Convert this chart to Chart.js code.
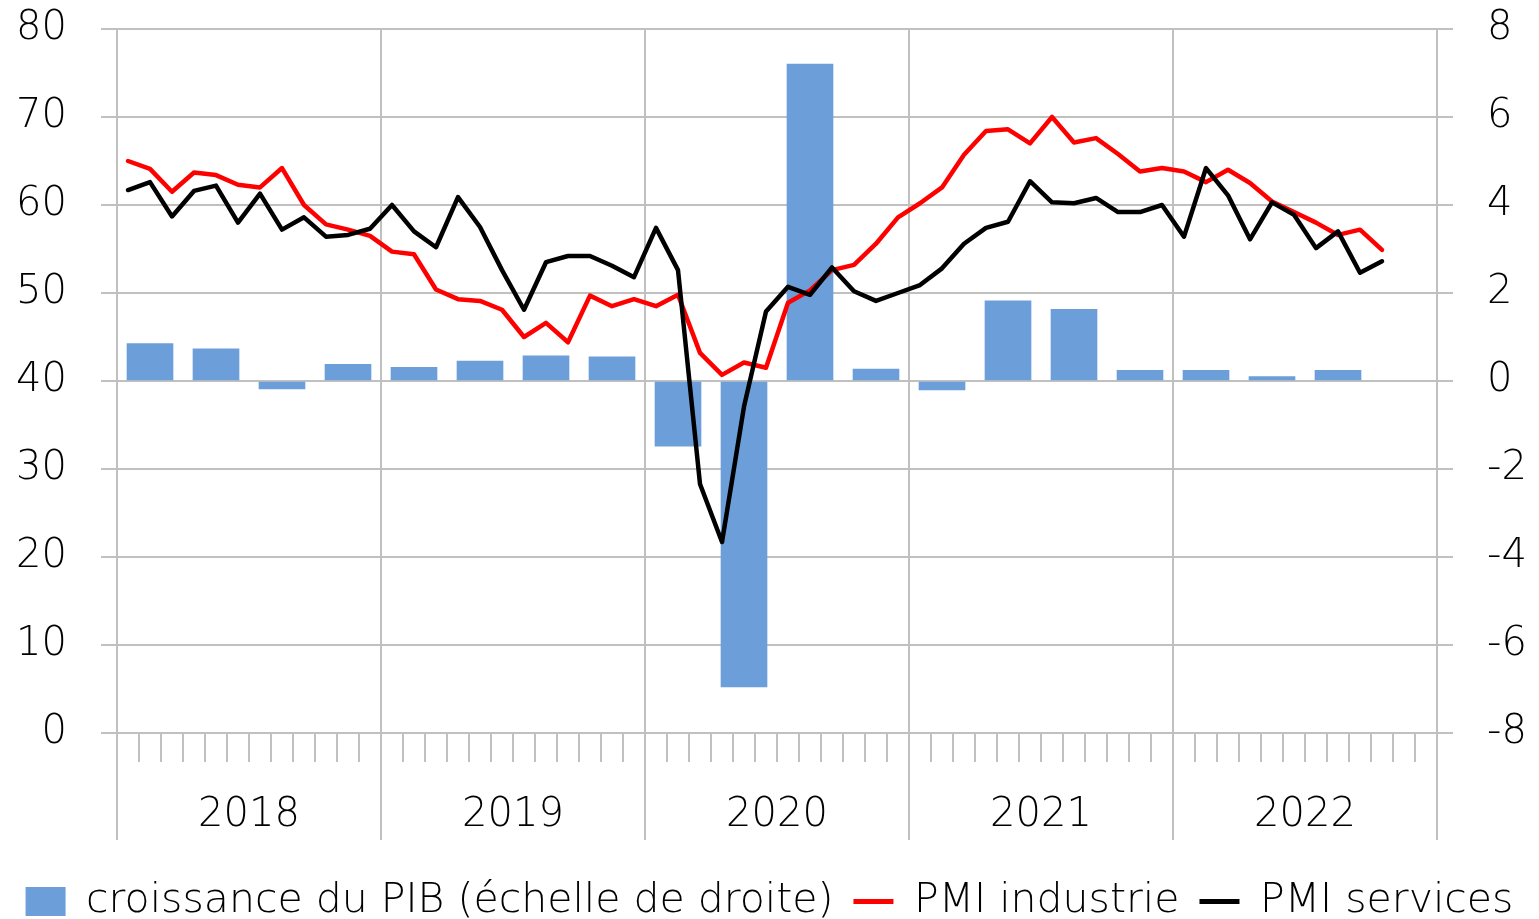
<!DOCTYPE html>
<html>
<head>
<meta charset="utf-8">
<script src="https://cdn.jsdelivr.net/npm/chart.js@4/dist/chart.umd.min.js"></script>
<style>
html,body{margin:0;padding:0;background:#fff;}
canvas{display:block;}
</style>
</head>
<body>
<canvas id="c" width="1539" height="919"></canvas>
<script>
// ---- data ----
const years = ['2018', '2019', '2020', '2021', '2022'];
const monthNumbers = ['01','02','03','04','05','06','07','08','09','10','11','12'];

// PMI industrie (monthly, Jan 2018 - Oct 2022)
const pmiIndustrie = [
  65.0, 64.1, 61.5, 63.7, 63.4, 62.3, 62.0, 64.2, 60.0, 57.8, 57.2, 56.5,
  54.7, 54.4, 50.4, 49.3, 49.1, 48.1, 45.0, 46.6, 44.4, 49.7, 48.5, 49.3,
  48.5, 49.8, 43.2, 40.7, 42.1, 41.5, 48.9, 50.3, 52.6, 53.2, 55.6, 58.6,
  60.2, 62.0, 65.7, 68.4, 68.6, 67.0, 70.0, 67.1, 67.6, 65.8, 63.8, 64.2,
  63.8, 62.6, 64.0, 62.5, 60.4, 59.2, 58.0, 56.6, 57.2, 54.9
];

// PMI services (monthly, Jan 2018 - Oct 2022)
const pmiServices = [
  61.7, 62.6, 58.7, 61.6, 62.2, 58.0, 61.3, 57.2, 58.6, 56.4, 56.6, 57.3,
  60.0, 57.0, 55.2, 60.9, 57.5, 52.6, 48.1, 53.5, 54.2, 54.2, 53.1, 51.8,
  57.4, 52.6, 28.3, 21.7, 37.1, 47.9, 50.7, 49.8, 52.9, 50.2, 49.1, 50.0,
  50.9, 52.8, 55.6, 57.4, 58.1, 62.7, 60.3, 60.2, 60.8, 59.2, 59.2, 60.0,
  56.4, 64.2, 61.1, 56.1, 60.3, 58.9, 55.1, 57.0, 52.3, 53.6
];

// croissance du PIB (quarterly, 2018Q1 - 2022Q3), right axis
const gdpGrowth = [
  0.85, 0.73, -0.18, 0.38,
  0.31, 0.45, 0.57, 0.55,
  -1.48, -6.95, 7.2, 0.27,
  -0.2, 1.82, 1.63, 0.24,
  0.24, 0.10, 0.24
];

const leftAxis = { min: 0, max: 80, step: 10 };
const rightAxis = { min: -8, max: 8, step: 2 };

// ---- derived ----
const labels = [];
years.forEach(y => monthNumbers.forEach(m => labels.push(y + '-' + m)));
// quarterly value placed on the middle month of each quarter
const gdpMonthly = labels.map((_, i) => {
  const q = (i - 1) / 3;
  return (i % 3 === 1 && q < gdpGrowth.length) ? gdpGrowth[q] : null;
});

const GRID = '#c0c0c0';
const TEXT = '#000000';
const FAMILY = "'DejaVu Sans', 'Open Sans', sans-serif";
const tickFont = { family: FAMILY, size: 40, weight: 200 };

// longer vertical separators between years below the axis
const yearSeparators = {
  id: 'yearSeparators',
  afterDraw(chart) {
    const x = chart.scales.x;
    const ca = chart.chartArea;
    const ctx = chart.ctx;
    const half = (x.getPixelForValue(1) - x.getPixelForValue(0)) / 2;
    ctx.save();
    ctx.strokeStyle = GRID;
    ctx.lineWidth = 2;
    for (let i = 0; i <= labels.length; i += monthNumbers.length) {
      const px = Math.round(x.getPixelForValue(i) - half);
      ctx.beginPath();
      ctx.moveTo(px, ca.bottom);
      ctx.lineTo(px, ca.bottom + 107);
      ctx.stroke();
    }
    ctx.restore();
  }
};

new Chart(document.getElementById('c'), {
  type: 'bar',
  data: {
    labels: labels,
    datasets: [
      {
        type: 'bar',
        label: 'croissance du PIB (échelle de droite)',
        data: gdpMonthly,
        yAxisID: 'y1',
        backgroundColor: '#6c9eda',
        borderWidth: 0,
        barThickness: 46,
        pointStyle: 'rect',
        order: 3
      },
      {
        type: 'line',
        label: 'PMI industrie',
        data: pmiIndustrie,
        yAxisID: 'y',
        borderColor: '#ff0000',
        backgroundColor: '#ff0000',
        borderWidth: 4.5,
        pointRadius: 0,
        pointHoverRadius: 0,
        tension: 0,
        borderJoinStyle: 'round',
        borderCapStyle: 'round',
        pointStyle: 'line',
        order: 2
      },
      {
        type: 'line',
        label: 'PMI services',
        data: pmiServices,
        yAxisID: 'y',
        borderColor: '#000000',
        backgroundColor: '#000000',
        borderWidth: 4.5,
        pointRadius: 0,
        pointHoverRadius: 0,
        tension: 0,
        borderJoinStyle: 'round',
        borderCapStyle: 'round',
        pointStyle: 'line',
        order: 1
      }
    ]
  },
  options: {
    responsive: false,
    animation: false,
    events: [],
    layout: { padding: { top: 29, left: 0, right: 0, bottom: -13 } },
    plugins: {
      tooltip: { enabled: false },
      legend: {
        position: 'bottom',
        labels: {
          usePointStyle: true,
          pointStyleWidth: 40,
          boxHeight: 29,
          padding: 20,
          color: TEXT,
          font: { family: FAMILY, size: 41, weight: 200 },
          sort: (a, b) => a.datasetIndex - b.datasetIndex,
          generateLabels(chart) {
            const items = Chart.defaults.plugins.legend.labels.generateLabels(chart);
            items.forEach(it => {
              const ds = chart.data.datasets[it.datasetIndex];
              if (ds.type === 'bar') {
                it.pointStyle = 'rect';
                it.fillStyle = ds.backgroundColor;
                it.strokeStyle = ds.backgroundColor;
                it.lineWidth = 0;
              } else {
                it.pointStyle = 'line';
                it.strokeStyle = ds.borderColor;
                it.lineWidth = 5;
              }
            });
            return items;
          }
        }
      }
    },
    scales: {
      x: {
        type: 'category',
        offset: true,
        grid: {
          offset: true,
          color: ctx => (ctx.index !== undefined && ctx.index % 12 === 0) ? GRID : 'rgba(0,0,0,0)',
          tickColor: GRID,
          lineWidth: 2,
          tickLength: 29,
          drawTicks: true
        },
        border: { display: true, color: GRID, width: 2 },
        ticks: {
          autoSkip: false,
          maxRotation: 0,
          minRotation: 0,
          padding: 30,
          labelOffset: 11,
          color: TEXT,
          font: tickFont,
          callback: (v, i) => (i % 12 === 5) ? labels[i].slice(0, 4) : ''
        },
        afterFit(s) { s.height = 128; s.paddingLeft = 0; s.paddingRight = 0; }
      },
      y: {
        position: 'left',
        min: leftAxis.min,
        max: leftAxis.max,
        ticks: { stepSize: leftAxis.step, padding: 34, color: TEXT, font: tickFont },
        grid: { color: GRID, lineWidth: 2, tickLength: 16, tickColor: GRID },
        border: { display: true, color: GRID, width: 2 },
        afterFit(s) { s.width = 117; s.paddingTop = 0; s.paddingBottom = 0; }
      },
      y1: {
        position: 'right',
        min: rightAxis.min,
        max: rightAxis.max,
        ticks: { stepSize: rightAxis.step, padding: 34, color: TEXT, font: tickFont },
        grid: { drawOnChartArea: false, lineWidth: 2, tickLength: 16, tickColor: GRID, color: GRID },
        border: { display: true, color: GRID, width: 2 },
        afterFit(s) { s.width = 102; s.paddingTop = 0; s.paddingBottom = 0; }
      }
    }
  },
  plugins: [yearSeparators]
});
</script>
</body>
</html>
